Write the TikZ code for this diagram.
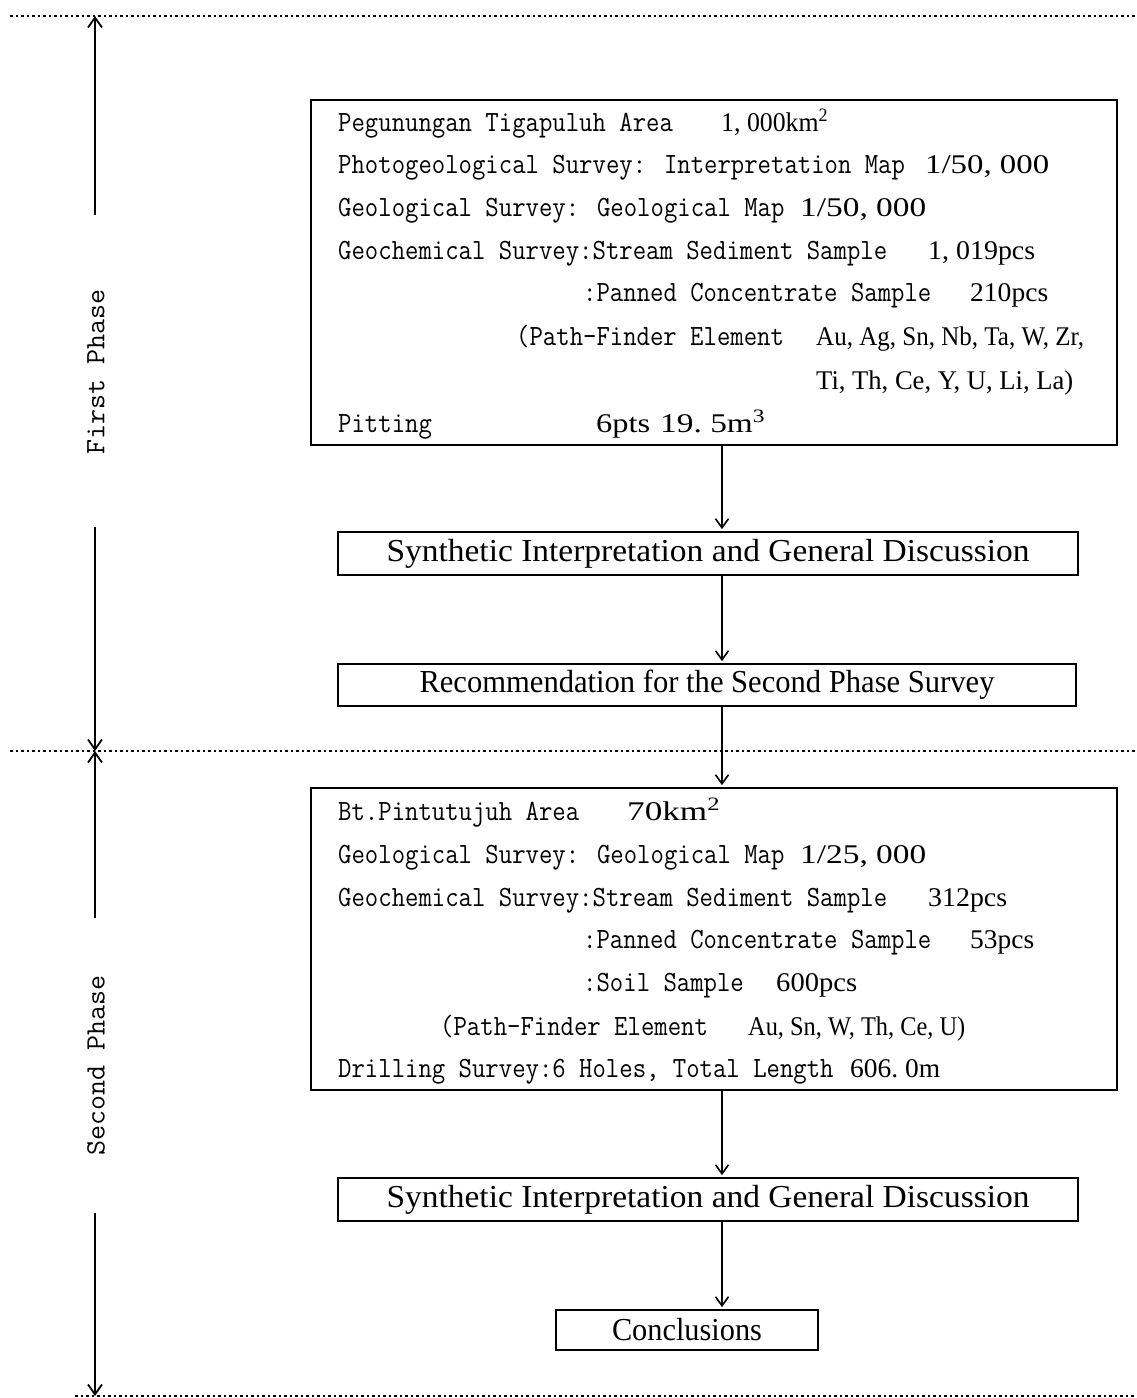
\documentclass[tikz,border=0pt]{standalone}
\usepackage{fontspec}
\usepackage{graphicx}
\setmainfont{Liberation Serif}
\usetikzlibrary{arrows.meta}
\newcommand\fitw[2]{\resizebox{#1}{\height}{#2}}
\newcommand\tall[1]{\scalebox{1}[1.13]{#1}}
\newcommand\cs{\hspace{0.25em}}
\begin{document}
\begin{tikzpicture}[x=1pt,y=-1pt,
  mono/.style={anchor=base west, inner sep=0pt, font=\fontsize{26}{30}\selectfont\ttfamily},
  num/.style={anchor=base west, inner sep=0pt, font=\fontsize{27}{30}\selectfont\rmfamily},
  bigbox/.style={draw, line width=1.8pt, inner sep=0pt},
  titlebox/.style={draw, line width=1.8pt, inner sep=0pt, font=\fontsize{32}{34}\selectfont\rmfamily},
  phase/.style={rotate=90, inner sep=0pt, font=\fontsize{28}{30}\selectfont\ttfamily},
  arr/.style={line width=1.6pt, -{Straight Barb[length=9pt,width=13pt,line width=1.6pt]}, shorten >=2pt},
  parr/.style={line width=1.8pt, -{Straight Barb[length=10pt,width=14pt,line width=1.8pt]}},
  dotline/.style={line width=1.2pt, dash pattern=on 2.5pt off 3pt}]
\useasboundingbox (0,0) rectangle (1136,1398);
\fill[white] (0,0) rectangle (1136,1398);

% phase boundary lines
\draw[dotline] (10,16) -- (1136,16);
\draw[dotline] (10,751) -- (1136,751);
\draw[dotline] (75,1396) -- (1136,1396);

% phase labels and arrows
\node[phase] (ph1) at (96,372) {\fitw{165pt}{First Phase}};
\node[phase] (ph2) at (96,1065) {\fitw{180pt}{Second Phase}};
\coordinate (ptop) at (95,16);
\coordinate (pg1) at (95,215);
\coordinate (pg2) at (95,527);
\coordinate (pmid) at (95,751);
\coordinate (pg3) at (95,918);
\coordinate (pg4) at (95,1213);
\coordinate (pbot) at (95,1396);
\draw[parr] (pg1) -- (ptop);
\draw[parr] (pg2) -- (pmid);
\draw[parr] (pg3) -- (pmid);
\draw[parr] (pg4) -- (pbot);

% boxes
\node[bigbox, minimum width=806pt, minimum height=345pt] (b1) at (714,272.5) {};
\node[titlebox, minimum width=740pt, minimum height=43pt] (b2) at (708,553.5)
  {\fitw{643pt}{Synthetic Interpretation and General Discussion}};
\node[titlebox, minimum width=738pt, minimum height=42pt] (b3) at (707,685)
  {\fitw{575pt}{Recommendation for the Second Phase Survey}};
\node[bigbox, minimum width=806pt, minimum height=302pt] (b4) at (714,939) {};
\node[titlebox, minimum width=740pt, minimum height=43pt] (b5) at (708,1199.5)
  {\fitw{643pt}{Synthetic Interpretation and General Discussion}};
\node[titlebox, minimum width=262pt, minimum height=40pt] (b6) at (687,1330)
  {\fitw{150pt}{Conclusions}};

% box 1 text
\node[mono] (t1a) at (338,131) {\tall{Pegunungan Tigapuluh Area}};
\node[num] (t1b) at (721,131) {\fitw{107pt}{1,\cs000km\textsuperscript{2}}};
\node[mono] (t2a) at (338,173) {\tall{Photogeological Survey: Interpretation Map}};
\node[num] (t2b) at (925,173) {\fitw{124pt}{1/50,\cs000}};
\node[mono] (t3a) at (338,216) {\tall{Geological Survey: Geological Map}};
\node[num] (t3b) at (800,216) {\fitw{126pt}{1/50,\cs000}};
\node[mono] (t4a) at (338,259) {\tall{Geochemical Survey:Stream Sediment Sample}};
\node[num] (t4b) at (928,259) {\fitw{107pt}{1,\cs019pcs}};
\node[mono] (t5a) at (583,301) {\tall{:Panned Concentrate Sample}};
\node[num] (t5b) at (970,301) {\fitw{78pt}{210pcs}};
\node[mono] (t6a) at (516,345) {\tall{(Path-Finder Element}};
\node[num] (t6b) at (816,345) {\fitw{268pt}{Au, Ag, Sn, Nb, Ta, W, Zr,}};
\node[num] (t7b) at (816,389) {\fitw{257pt}{Ti, Th, Ce, Y, U, Li, La)}};
\node[mono] (t8a) at (338,432) {\tall{Pitting}};
\node[num] (t8b) at (596,432) {\fitw{54pt}{6pts}};
\node[num] (t8c) at (660,432) {\fitw{105pt}{19.\cs5m\textsuperscript{3}}};

% box 4 text
\node[mono] (u1a) at (338,820) {\tall{Bt.Pintutujuh Area}};
\node[num] (u1b) at (627,820) {\fitw{93pt}{70km\textsuperscript{2}}};
\node[mono] (u2a) at (338,863) {\tall{Geological Survey: Geological Map}};
\node[num] (u2b) at (800,863) {\fitw{126pt}{1/25,\cs000}};
\node[mono] (u3a) at (338,906) {\tall{Geochemical Survey:Stream Sediment Sample}};
\node[num] (u3b) at (928,906) {\fitw{79pt}{312pcs}};
\node[mono] (u4a) at (583,948) {\tall{:Panned Concentrate Sample}};
\node[num] (u4b) at (970,948) {\fitw{64pt}{53pcs}};
\node[mono] (u5a) at (583,991) {\tall{:Soil Sample}};
\node[num] (u5b) at (776,991) {\fitw{81pt}{600pcs}};
\node[mono] (u6a) at (440,1035) {\tall{(Path-Finder Element}};
\node[num] (u6b) at (748,1035) {\fitw{217pt}{Au, Sn, W, Th, Ce, U)}};
\node[mono] (u7a) at (338,1077) {\tall{Drilling Survey:6 Holes, Total Length}};
\node[num] (u7b) at (850,1077) {\fitw{90pt}{606.\cs0m}};

% flow arrows
\coordinate (ax) at (722,0);
\draw[arr] (b1.south -| ax) -- (b2.north -| ax);
\draw[arr] (b2.south -| ax) -- (b3.north -| ax);
\draw[arr] (b3.south -| ax) -- (b4.north -| ax);
\draw[arr] (b4.south -| ax) -- (b5.north -| ax);
\draw[arr] (b5.south -| ax) -- (b6.north -| ax);
\end{tikzpicture}
\end{document}
